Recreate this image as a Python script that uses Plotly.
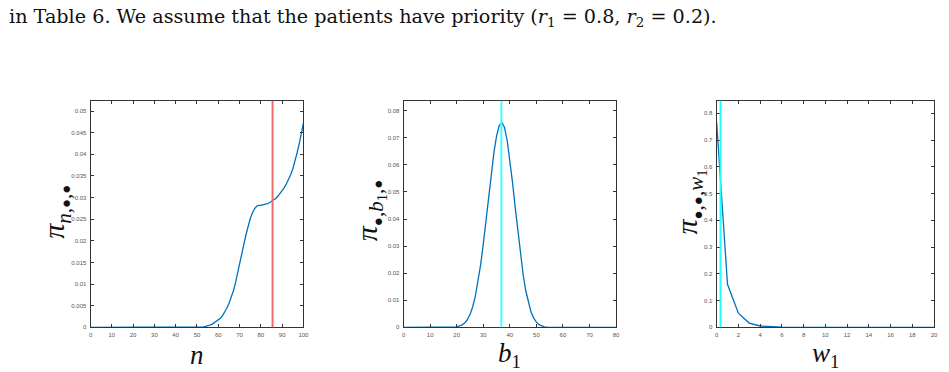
import plotly.graph_objects as go
from plotly.subplots import make_subplots

# ---------------- data ----------------
n_vals = list(range(0, 101))
pi_n = [0.0] * 50 + [
    0.0, 0.00002, 0.00005, 0.0001, 0.0002, 0.0003, 0.0005, 0.0007, 0.0010, 0.0013,
    0.0016, 0.0021, 0.0027, 0.0035, 0.0044, 0.0055, 0.0068, 0.0083, 0.0101, 0.0122,
    0.0145, 0.0169, 0.0192, 0.0214, 0.0234, 0.0251, 0.0264, 0.0274, 0.0280, 0.0282,
    0.0282, 0.0283, 0.0284, 0.0286, 0.0288, 0.0291, 0.0294, 0.0298, 0.0303, 0.0309,
    0.0316, 0.0323, 0.0332, 0.0342, 0.0353, 0.0366, 0.0383, 0.0403, 0.0424, 0.0447,
    0.0472]
n_mean = 85.5

b1_vals = list(range(0, 81))
pi_b1 = [0.0] * 18 + [
    0.00004, 0.0001, 0.0002, 0.0005, 0.0009, 0.0016, 0.0028, 0.0047, 0.0075, 0.0114,
    0.0166, 0.0231, 0.0307, 0.0392, 0.0480, 0.0567, 0.0645, 0.0706, 0.0745, 0.0757,
    0.0738, 0.0690, 0.0620, 0.0536, 0.0445, 0.0354, 0.0269, 0.0195, 0.0135, 0.0089,
    0.0056, 0.0034, 0.0019, 0.0010, 0.0005, 0.0002, 0.0001, 0.00004] + [0.0] * 25
b1_mean = 36.8

w1_vals = list(range(0, 21))
pi_w1 = [0.767, 0.161, 0.053, 0.016, 0.005, 0.0015, 0.0005, 0.0002, 0.0001,
         0.0, 0.0, 0.0, 0.0, 0.0, 0.0, 0.0, 0.0, 0.0, 0.0, 0.0, 0.0]
w1_mean = 0.36

n_ticks = list(range(0, 101, 10))
b1_ticks = list(range(0, 81, 10))
w1_ticks = list(range(0, 21, 2))
y1_ticks = [0, 0.005, 0.01, 0.015, 0.02, 0.025, 0.03, 0.035, 0.04, 0.045, 0.05]
y1_text = ["0", "0.005", "0.01", "0.015", "0.02", "0.025", "0.03", "0.035", "0.04", "0.045", "0.05"]
y2_ticks = [0, 0.01, 0.02, 0.03, 0.04, 0.05, 0.06, 0.07, 0.08]
y2_text = ["0", "0.01", "0.02", "0.03", "0.04", "0.05", "0.06", "0.07", "0.08"]
y3_ticks = [0, 0.1, 0.2, 0.3, 0.4, 0.5, 0.6, 0.7, 0.8]
y3_text = ["0", "0.1", "0.2", "0.3", "0.4", "0.5", "0.6", "0.7", "0.8"]

# ---------------- figure ----------------
W, H = 949, 372
fig = make_subplots(rows=1, cols=3)

blue = "#0072BD"
fig.add_trace(go.Scatter(x=n_vals, y=pi_n, mode="lines", line=dict(color=blue, width=1.3),
                         showlegend=False), row=1, col=1)
fig.add_trace(go.Scatter(x=b1_vals, y=pi_b1, mode="lines", line=dict(color=blue, width=1.3),
                         showlegend=False), row=1, col=2)
fig.add_trace(go.Scatter(x=w1_vals, y=pi_w1, mode="lines", line=dict(color=blue, width=1.3),
                         showlegend=False), row=1, col=3)

fig.add_vline(x=n_mean, line=dict(color="#F26B6B", width=2), row=1, col=1)
fig.add_vline(x=b1_mean, line=dict(color="#40FFFF", width=2), row=1, col=2)
fig.add_vline(x=w1_mean, line=dict(color="#20FFFF", width=2), row=1, col=3)

def px_dom(a, b, total):
    return [a / total, b / total]

ydom = [(H - 330) / H, (H - 101.5) / H]
xdoms = [px_dom(89.3, 304, W), px_dom(405, 619.3, W), px_dom(720.7, 940, W)]
xranges = [[0, 100], [0, 80], [0, 20]]
yranges = [[0, 0.0524], [0, 0.0837], [0, 0.847]]
xticks = [n_ticks, b1_ticks, w1_ticks]
yticks = [(y1_ticks, y1_text), (y2_ticks, y2_text), (y3_ticks, y3_text)]

axis_common = dict(showgrid=False, zeroline=False, showline=True, linecolor="#333333",
                   linewidth=1, mirror="allticks", ticks="inside", ticklen=3,
                   tickwidth=1, tickcolor="#333333",
                   tickfont=dict(family="Liberation Sans", size=6, color="#555555"))

for i in range(3):
    k = "" if i == 0 else str(i + 1)
    fig.layout["xaxis" + k].update(domain=xdoms[i], range=xranges[i], tickvals=xticks[i],
                                   ticklabelstandoff=1, **axis_common)
    fig.layout["yaxis" + k].update(domain=ydom, range=yranges[i], tickvals=yticks[i][0],
                                   ticktext=yticks[i][1], ticklabelstandoff=2, **axis_common)

serif = "Liberation Serif"
anns = []
# header text
anns.append(dict(x=5 / W, y=1 - 17.5 / H, xref="paper", yref="paper", xanchor="left",
                 yanchor="middle", showarrow=False,
                 text="in Table 6. We assume that the patients have priority (<i>r</i><sub>1</sub> = 0.8, <i>r</i><sub>2</sub> = 0.2).",
                 font=dict(family="DejaVu Serif", size=19.2, color="#111111")))
# x labels
xlabels = ["<i>n</i>", "<i>b</i><sub>1</sub>", "<i>w</i><sub>1</sub>"]
xcent = [196.7, 512, 830]
for t, xc in zip(xlabels, xcent):
    anns.append(dict(x=xc / W, y=1 - 358 / H, xref="paper", yref="paper", xanchor="center",
                     yanchor="middle", showarrow=False, text=t, borderpad=0,
                     font=dict(family=serif, size=27, color="#111111")))
# y labels
dot = '<span style="font-size:15px">●</span>'
ylabels = [f"<i>π</i><sub><i>n</i>,{dot},{dot}</sub>",
           f"<i>π</i><sub>{dot},<i>b</i><sub>1</sub>,{dot}</sub>",
           f"<i>π</i><sub>{dot},{dot},<i>w</i><sub>1</sub></sub>"]
ycent = [(55, 214), (371, 212), (694, 204)]
for t, (xc, yc) in zip(ylabels, ycent):
    anns.append(dict(x=xc / W, y=1 - yc / H, xref="paper", yref="paper", xanchor="center",
                     yanchor="middle", showarrow=False, text=t, textangle=-90, borderpad=0,
                     font=dict(family=serif, size=30, color="#111111")))

fig.update_layout(width=W, height=H, margin=dict(l=0, r=0, t=0, b=0),
                  paper_bgcolor="white", plot_bgcolor="white", annotations=anns)

fig.write_html("out.html")
